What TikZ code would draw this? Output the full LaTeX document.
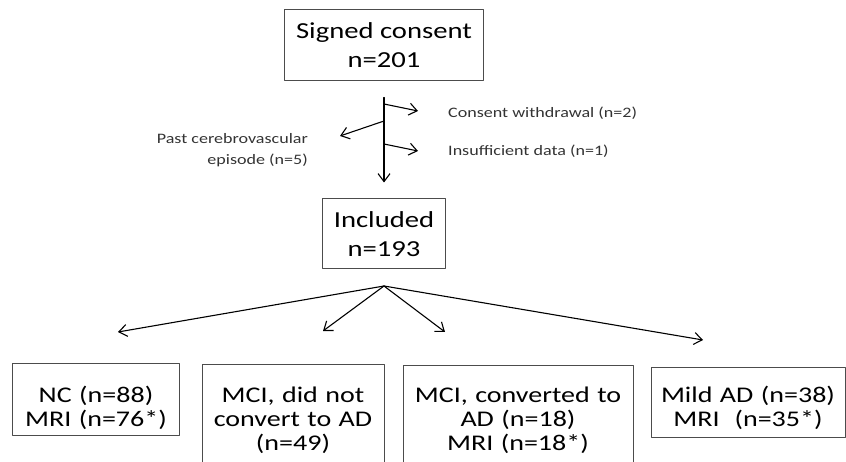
\documentclass[tikz,border=0pt]{standalone}
\usepackage{fontspec}
\setmainfont{Carlito}[FakeStretch=1.25]
\usetikzlibrary{arrows.meta}
\begin{document}
\begin{tikzpicture}[>={Straight Barb[length=8bp,width=12bp]},line join=bevel,x=1bp,y=-1bp,
    box/.style={draw=black!70,line width=1bp,rectangle,align=center,inner sep=0pt},
    big/.style={font=\fontsize{23}{29}\selectfont},
    small/.style={font=\fontsize{22.5}{24}\selectfont},
    note/.style={text=black!80,inner sep=0pt,font=\fontsize{14.5}{21}\selectfont},
    link/.style={->,line width=1.1bp,line cap=round}]
    \useasboundingbox (0,0) rectangle (846,462);
    %%
    \node (signed) at (384,45.5) [box,big,minimum width=199bp,minimum height=71bp] {Signed consent\\n=201};
    \node (included) at (384,234) [box,big,minimum width=123bp,minimum height=70bp] {Included\\n=193};
    \node (nc) at (96,363) [box,small,anchor=north,text width=166bp,text height=39bp,text depth=33bp] {NC (n=88)\\MRI (n=76*)};
    \node (mcinot) at (293,364) [box,small,anchor=north,text width=182bp,text height=38bp,text depth=80bp] {MCI, did not\\convert to AD\\(n=49)};
    \node (mciconv) at (518,365) [box,small,anchor=north,text width=230bp,text height=37bp,text depth=80bp] {MCI, converted to\\AD (n=18)\\MRI (n=18*)};
    \node (mild) at (748,367) [box,small,anchor=north,text width=194bp,text height=35bp,text depth=35bp] {Mild AD (n=38)\\MRI\ \ (n=35*)};
    %
    \node (withdrawal) at (448,118) [note,anchor=base west] {Consent withdrawal (n=2)};
    \node (insufficient) at (448,156) [note,anchor=base west] {Insufficient data (n=1)};
    \node (cerebro) at (308,133) [note,anchor=north east,align=right] {Past cerebrovascular\\episode (n=5)};
    %
    \coordinate (b1) at (384,104);
    \coordinate (e1) at (418,111);
    \coordinate (b2) at (384,121);
    \coordinate (e2) at (340,136);
    \coordinate (b3) at (384,144);
    \coordinate (e3) at (418,151);
    \coordinate (fork) at (384,286);
    \coordinate (tonc) at (118,332);
    \coordinate (tomcinot) at (323,331);
    \coordinate (tomciconv) at (445,332);
    \coordinate (tomild) at (703,340);
    %
    \draw [link,shorten <=16bp,shorten >=16bp] (signed) -- (included);
    \draw [link] (b1) -- (e1);
    \draw [link] (b2) -- (e2);
    \draw [link] (b3) -- (e3);
    \draw [link] (fork) -- (tonc);
    \draw [link] (fork) -- (tomcinot);
    \draw [link] (fork) -- (tomciconv);
    \draw [link] (fork) -- (tomild);
    %
\end{tikzpicture}
\end{document}
